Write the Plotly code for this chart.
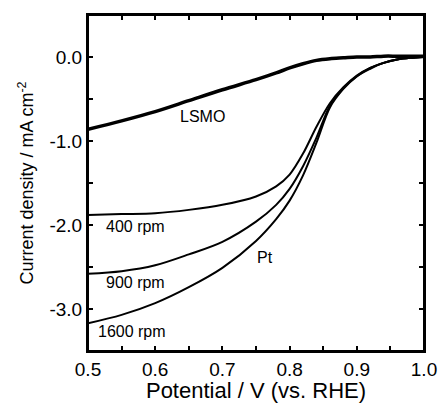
import plotly.graph_objects as go

potential = [0.50, 0.55, 0.60, 0.65, 0.70, 0.75, 0.78, 0.80, 0.82, 0.84, 0.86, 0.88, 0.90, 0.92, 0.94, 0.96, 0.98, 1.00]
pt_400 = [-1.88, -1.87, -1.86, -1.82, -1.76, -1.66, -1.54, -1.40, -1.15, -0.83, -0.55, -0.36, -0.22, -0.13, -0.07, -0.03, -0.01, 0.00]
pt_900 = [-2.58, -2.55, -2.48, -2.35, -2.20, -1.96, -1.76, -1.57, -1.30, -0.96, -0.58, -0.37, -0.23, -0.13, -0.07, -0.03, -0.01, 0.00]
pt_1600 = [-3.17, -3.07, -2.93, -2.74, -2.51, -2.19, -1.93, -1.71, -1.41, -1.02, -0.60, -0.38, -0.23, -0.14, -0.07, -0.03, -0.01, 0.00]
lsmo = [-0.86, -0.76, -0.65, -0.52, -0.39, -0.27, -0.19, -0.13, -0.08, -0.04, -0.02, -0.01, 0.00, 0.00, 0.01, 0.01, 0.01, 0.01]

x_tickvals = [0.5, 0.6, 0.7, 0.8, 0.9, 1.0]
x_ticktext = ["0.5", "0.6", "0.7", "0.8", "0.9", "1.0"]
x_minorvals = [0.55, 0.65, 0.75, 0.85, 0.95]
y_tickvals = [-3.0, -2.0, -1.0, 0.0]
y_ticktext = ["-3.0", "-2.0", "-1.0", "0.0"]
y_minorvals = [-3.5, -2.5, -1.5, -0.5, 0.5]

labels = ["LSMO", "400 rpm", "900 rpm", "1600 rpm", "Pt"]
label_x = [0.671, 0.571, 0.571, 0.565, 0.763]
label_y = [-0.71, -2.02, -2.69, -3.27, -2.39]

FONT = "Arial, Liberation Sans, sans-serif"

fig = go.Figure()
for ys, w in [(lsmo, 3.5), (pt_400, 2), (pt_900, 2), (pt_1600, 2)]:
    fig.add_trace(go.Scatter(x=potential, y=ys, mode="lines",
                             line=dict(color="black", width=w, shape="spline", smoothing=0.9),
                             showlegend=False, hoverinfo="skip"))

for t, x, y in zip(labels, label_x, label_y):
    fig.add_annotation(x=x, y=y, text=t, showarrow=False,
                       font=dict(family=FONT, size=16, color="black"))

# plot frame (top/right edges)
fig.add_shape(type="rect", xref="paper", yref="paper", x0=0, y0=0, x1=1, y1=1,
              line=dict(color="black", width=2), layer="above")

axis_common = dict(showgrid=False, zeroline=False, showline=True, linecolor="black",
                   linewidth=2, ticks="inside", ticklen=5, tickwidth=1.5, tickcolor="black",
                   mirror="ticks", automargin=False,
                   tickfont=dict(family=FONT, size=19, color="black"))

fig.update_xaxes(range=[0.5, 1.0], tickmode="array", tickvals=x_tickvals, ticktext=x_ticktext,
                 minor=dict(tickmode="array", tickvals=x_minorvals, ticks="inside", ticklen=5,
                            tickwidth=1.5, tickcolor="black", showgrid=False),
                 title=dict(text="Potential / V (vs. RHE)", font=dict(family=FONT, size=22, color="black"), standoff=4),
                 **axis_common)
fig.update_yaxes(range=[-3.5, 0.5], tickmode="array", tickvals=y_tickvals, ticktext=y_ticktext,
                 minor=dict(tickmode="array", tickvals=y_minorvals, ticks="inside", ticklen=5,
                            tickwidth=1.5, tickcolor="black", showgrid=False),
                 title=dict(text="Current density / mA cm<sup>-2</sup>", font=dict(family=FONT, size=18, color="black"), standoff=11),
                 **axis_common)

fig.update_layout(width=440, height=403, margin=dict(l=88, r=16, t=15, b=52),
                  plot_bgcolor="white", paper_bgcolor="white")

fig.write_html("out.html", config={"displayModeBar": False},
               post_script="document.body.style.margin='0px';document.body.style.overflow='hidden';")
